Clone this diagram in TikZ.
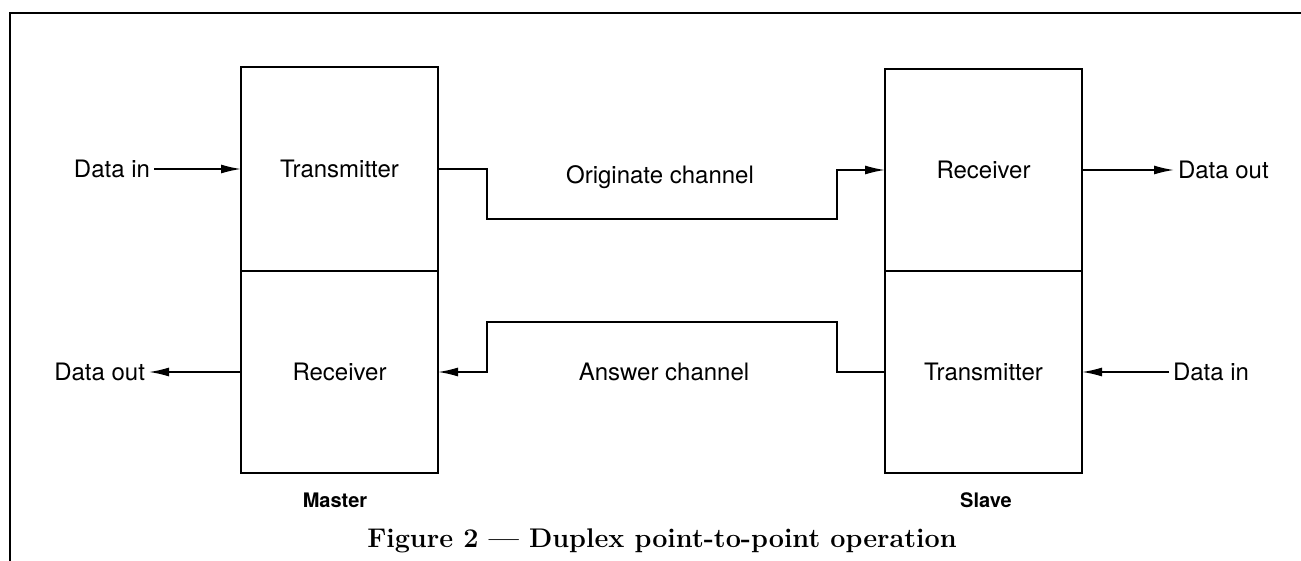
\documentclass[tikz,border=0pt]{standalone}
\usepackage{fontspec}
\newfontfamily\heros{TeX Gyre Heros}
\usetikzlibrary{positioning,arrows.meta}
\begin{document}
\begin{tikzpicture}[x=1pt, y=-1pt,
        unit/.style={draw, line width=2.4pt, minimum width=197pt, inner sep=0pt, outer sep=0pt, font=\heros\fontsize{24}{28}\selectfont},
        lbl/.style={inner sep=0pt, outer sep=4pt, font=\heros\fontsize{24}{28}\selectfont},
        side/.style={inner sep=0pt, font=\heros\bfseries\fontsize{20}{24}\selectfont},
        wire/.style={line width=1.6pt, -{Latex[length=20pt, width=9pt]}}]
    \useasboundingbox (0,0) rectangle (1301,561);
    \draw[line width=2.8pt] (10,561) -- (10,13) -- (1301,13);
    % master side
    \node[unit, minimum height=204pt] (mtx) at (339.5,169) {Transmitter};
    \node[unit, minimum height=202pt, below=0pt of mtx] (mrx) {Receiver};
    % slave side
    \node[unit, minimum height=202pt] (srx) at (983.5,170) {Receiver};
    \node[unit, minimum height=202pt, below=0pt of srx] (stx) {Transmitter};
    \node[lbl, left=87pt of mtx] (mdin) {Data in};
    \node[lbl, left=92pt of mrx] (mdout) {Data out};
    \node[lbl, right=92pt of srx] (sdout) {Data out};
    \node[lbl, right=87pt of stx] (sdin) {Data in};
    \node[lbl] (orig) at (660,177) {Originate channel};
    \node[lbl] (ans) at (664,372) {Answer channel};
    \node[side] (master) at (335,500) {Master};
    \node[side] (slave) at (986,500) {Slave};
    \node[font=\bfseries\fontsize{27}{32}\selectfont] (cap) at (662,541) {Figure 2 --- Duplex point-to-point operation};
    \draw[wire] (mdin) -- (mtx);
    \draw[wire] (mrx) -- (mdout);
    \draw[wire] (srx) -- (sdout);
    \draw[wire] (sdin) -- (stx);
    \draw[wire] (mtx.east) -- ++(49,0) -- ++(0,50) -| ([xshift=-48pt]srx.west) -- (srx.west);
    \draw[wire] (stx.west) -- ++(-48,0) -- ++(0,-50) -| ([xshift=49pt]mrx.east) -- (mrx.east);
\end{tikzpicture}
\end{document}
